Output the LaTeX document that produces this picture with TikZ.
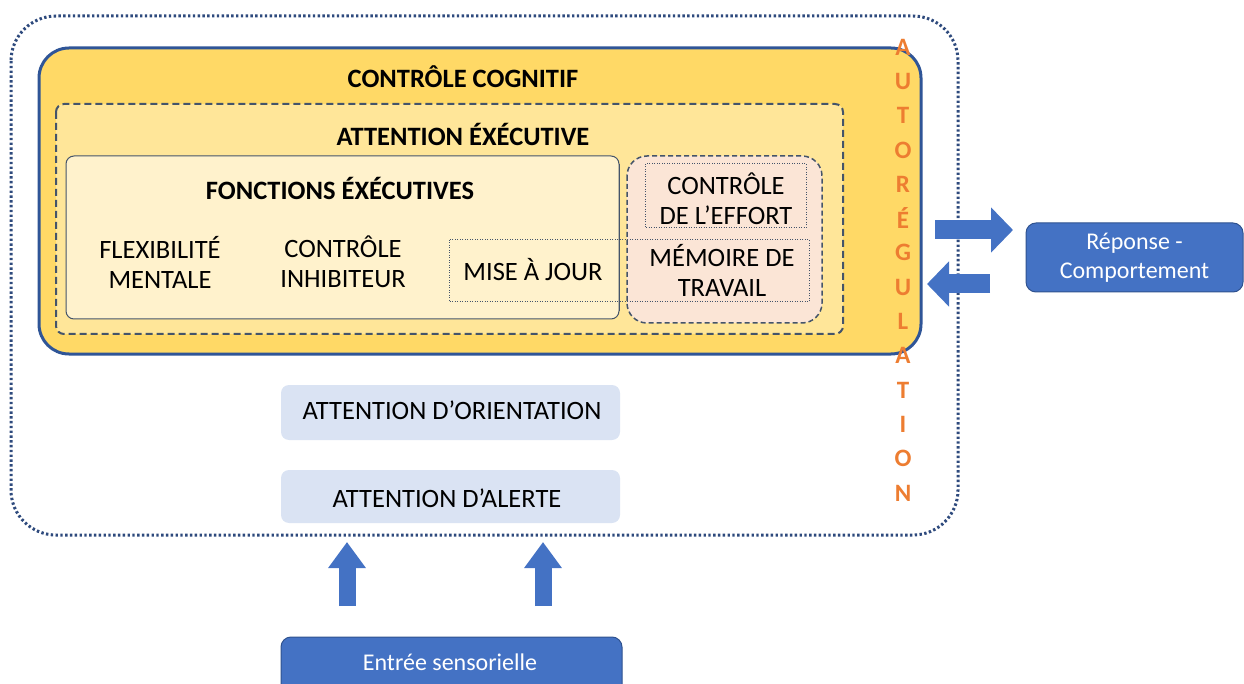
\documentclass[tikz,border=0pt]{standalone}
\usepackage{fontspec}
\setmainfont{Carlito}
\usetikzlibrary{arrows.meta,calc}
\definecolor{gold}{HTML}{FFD966}
\definecolor{navy}{HTML}{2F5597}
\definecolor{dotnavy}{HTML}{2E4A7D}
\definecolor{lyellow}{HTML}{FFE699}
\definecolor{pyellow}{HTML}{FFF2CC}
\definecolor{pinkf}{HTML}{FBE5D6}
\definecolor{slate}{HTML}{44546A}
\definecolor{lblue}{HTML}{DAE3F3}
\definecolor{mblue}{HTML}{4472C4}
\definecolor{dblue}{HTML}{2F528F}
\definecolor{orng}{HTML}{ED7D31}
\tikzset{
  txt/.style={font=\fontsize{26.5}{30}\selectfont, align=center, text=black},
  ttl/.style={font=\fontsize{26.5}{30}\selectfont\bfseries, text=black},
  dotbox/.style={draw=slate, line width=1pt, dash pattern=on 1pt off 1.5pt},
  lbluebox/.style={fill=lblue, rounded corners=8pt, inner sep=0pt},
  bluebox/.style={fill=mblue, draw=dblue, line width=1pt, rounded corners=10pt, inner sep=0pt, text=white, font=\fontsize{24}{29}\selectfont, align=center},
  letter/.style={text=orng, font=\fontsize{25}{30}\selectfont\bfseries},
  uparrow/.style={draw=mblue, line width=17pt, -{Triangle[width=36pt,length=26pt]}},
  sidearrow/.style={draw=mblue, line width=19pt, -{Triangle[width=44pt,length=22pt]}},
}
\begin{document}
\begin{tikzpicture}[x=1pt,y=-1pt]
\useasboundingbox (0,0) rectangle (1244,684);
% outer dotted
\draw[dotnavy, line width=3pt, dash pattern=on 2.4pt off 2.4pt, rounded corners=45pt] (11,16) rectangle (958,535);
% controle cognitif
\draw[fill=gold, draw=navy, line width=3pt, rounded corners=30pt] (39,48) rectangle (921,354);
\node[ttl] (cc) at (463,77) {CONTRÔLE COGNITIF};
% attention executive
\draw[fill=lyellow, draw=slate, line width=2pt, dash pattern=on 7pt off 4pt, rounded corners=8pt] (56,104) rectangle (843,334);
\node[ttl] (ae) at (463,134) {ATTENTION ÉXÉCUTIVE};
% fonctions executives
\draw[fill=pyellow, draw=slate, line width=1pt, rounded corners=8pt] (66,156) rectangle (619,319);
\node[ttl] (fe) at (340,188) {FONCTIONS ÉXÉCUTIVES};
% pink dashed
\draw[fill=pinkf, draw=slate, line width=1.5pt, dash pattern=on 5pt off 3pt, rounded corners=20pt] (627,156) rectangle (822,323);
% redraw fonctions right edge
\draw[slate, line width=1pt] (619,164) -- (619,311);
% dotted boxes
\draw[dotbox] (645,164) rectangle (806,228);
\draw[dotbox] (449,240) rectangle (809,302);
\node[txt] (flex) at (160,262) {FLEXIBILITÉ\\MENTALE};
\node[txt] (inh) at (343,262) {CONTRÔLE\\INHIBITEUR};
\node[txt] (maj) at (533,270) {MISE À JOUR};
\node[txt] (eff) at (726,199) {CONTRÔLE\\DE L’EFFORT};
\node[txt] (mem) at (722,270) {MÉMOIRE DE\\TRAVAIL};
% autoregulation letters
\foreach \l [count=\i from 0] in {A,U,T,O,R,É,G,U,L,A,T,I,O,N}
  \node[letter] (L\i) at (903,{47+\i*34.3}) {\l};
% lower boxes
\node[lbluebox, minimum width=339pt, minimum height=55pt] (ori) at (450.5,412.5) {};
\node[txt] at (452,410) {ATTENTION D’ORIENTATION};
\node[lbluebox, minimum width=339pt, minimum height=53pt] (ale) at (450.5,496.5) {};
\node[txt] at (447,498) {ATTENTION D’ALERTE};
\node[bluebox, minimum width=341pt, minimum height=60pt] (ent) at (451.5,667) {};
\node[text=white, font=\fontsize{24}{29}\selectfont] at (450,662) {Entrée sensorielle};
\node[bluebox, minimum width=217pt, minimum height=69pt] (rep) at (1134.5,257.5) {Réponse -\\Comportement};
% up arrows
\draw[uparrow] (347,606) -- (347,542);
\draw[uparrow] (543,606) -- (543,542);
% horizontal arrows
\coordinate (r1) at (935,230);
\coordinate (r2) at (1013,230);
\coordinate (l1) at (990,284);
\coordinate (l2) at (927,284);
\draw[sidearrow] (r1) -- (r2);
\draw[sidearrow] (l1) -- (l2);
\end{tikzpicture}
\end{document}
